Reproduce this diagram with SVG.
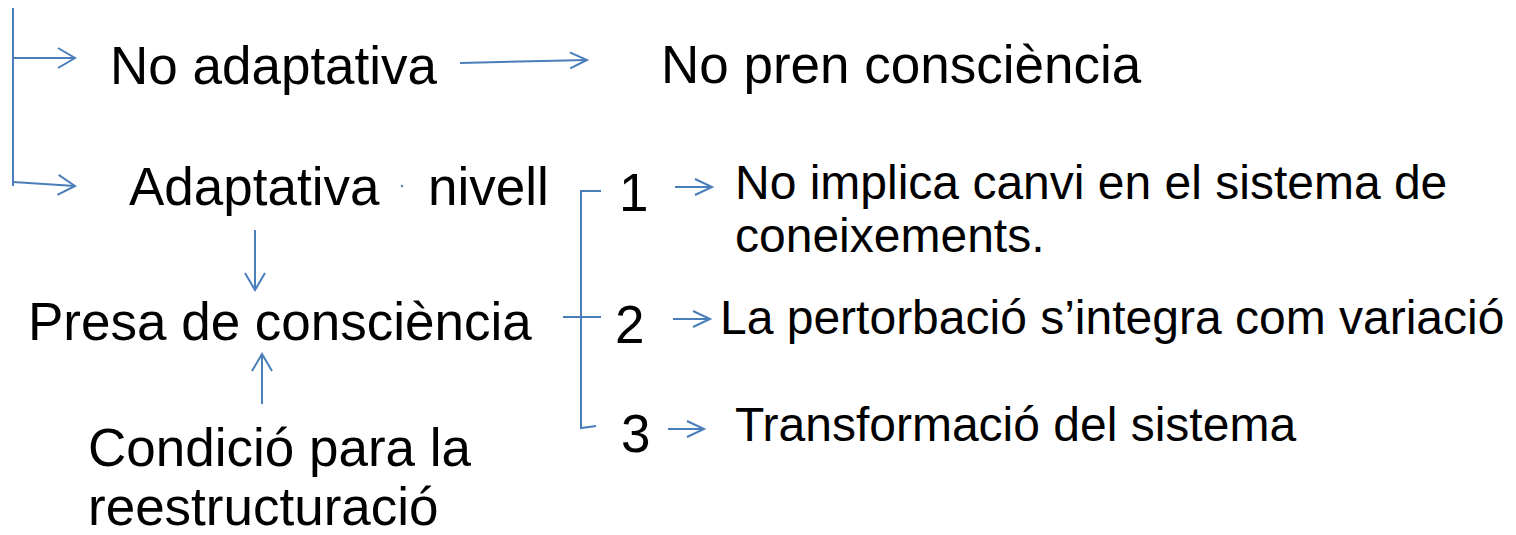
<svg xmlns="http://www.w3.org/2000/svg" width="1516" height="535" viewBox="0 0 1516 535">
<style>
.c{fill:none;stroke:#4a7ebb;stroke-width:2}
.t{font-family:"Liberation Sans",Arial,sans-serif;fill:#000}
.l{font-size:53px}
.s{font-size:48px}
</style>
<defs>
<marker id="ah" markerUnits="userSpaceOnUse" markerWidth="20" markerHeight="22" refX="18" refY="10" orient="auto" overflow="visible">
<path d="M1,0 L18,10 L1,20" fill="none" stroke="#4a7ebb" stroke-width="2"/>
</marker>
<marker id="as" markerUnits="userSpaceOnUse" markerWidth="20" markerHeight="20" refX="17" refY="8" orient="auto" overflow="visible">
<path d="M0,0 L17,8 L0,16" fill="none" stroke="#4a7ebb" stroke-width="2"/>
</marker>
</defs>
<rect width="1516" height="535" fill="#fff"/>
<g id="connectors">
<path class="c" d="M13,8 L13,186"/>
<path class="c" d="M13,58 L75,58" marker-end="url(#ah)"/>
<path class="c" d="M13,182 L75,186" marker-end="url(#ah)"/>
<path class="c" d="M460,63 L587,60" marker-end="url(#as)"/>
<path class="c" d="M255,230 L255,290" marker-end="url(#ah)"/>
<path class="c" d="M262,404 L262,354" marker-end="url(#ah)"/>
<path class="c" d="M601,191 L581,191 L581,428 L596,426"/>
<path class="c" d="M563,317 L601,317"/>
<path class="c" d="M675,187 L712,187" marker-end="url(#as)"/>
<path class="c" d="M673,319 L710,319" marker-end="url(#as)"/>
<path class="c" d="M668,429 L704,429" marker-end="url(#as)"/>
<path class="c" d="M401.5,187 L402.5,185" stroke-width="1.5"/>
</g>
<g id="no-adaptativa"><text class="t l" x="110" y="84">No adaptativa</text></g>
<g id="no-pren"><text class="t l" x="661" y="83">No pren consciència</text></g>
<g id="adaptativa"><text class="t l" x="129" y="205">Adaptativa</text></g>
<g id="nivell"><text class="t l" x="428" y="205">nivell</text></g>
<g id="presa"><text class="t l" x="28" y="340">Presa de consciència</text></g>
<g id="condicio"><text class="t l" x="88" y="466">Condició para la</text><text class="t l" x="88" y="525">reestructuració</text></g>
<g id="n1"><text class="t l" x="619" y="211">1</text></g>
<g id="n2"><text class="t l" x="615" y="343">2</text></g>
<g id="n3"><text class="t l" x="621" y="452">3</text></g>
<g id="nivell1"><text class="t s" x="735" y="199">No implica canvi en el sistema de</text><text class="t s" x="735" y="252">coneixements.</text></g>
<g id="nivell2"><text class="t s" x="720" y="334">La pertorbació s’integra com variació</text></g>
<g id="nivell3"><text class="t s" x="735" y="441">Transformació del sistema</text></g>
</svg>
